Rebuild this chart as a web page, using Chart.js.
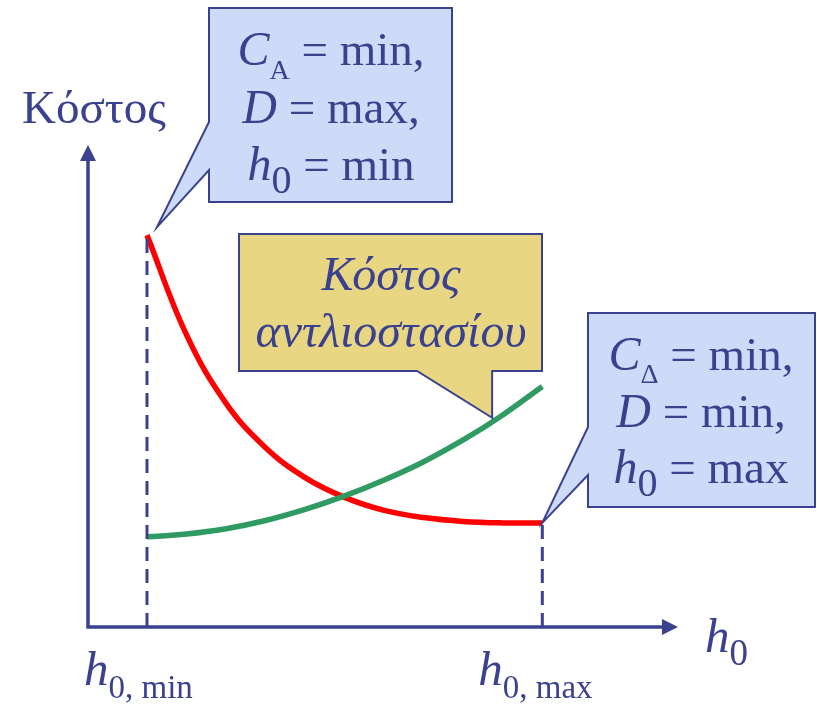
<!DOCTYPE html>
<html>
<head>
<meta charset="utf-8">
<script src="https://cdn.jsdelivr.net/npm/chart.js@4/dist/chart.umd.min.js"></script>
<style>
html,body{margin:0;padding:0;background:#fff;}
#wrap{width:817px;height:705px;}
</style>
</head>
<body>
<div id="wrap"><canvas id="c" width="817" height="705"></canvas></div>
<script>
// ---- data (schematic values) ----
const h0Values   = [1.0, 1.67, 2.34, 3.01, 3.68, 4.35, 5.02, 5.69, 6.36, 7.03, 7.7];
const pipeCost   = [81.3, 60.6, 46.4, 37.2, 31.0, 26.9, 24.2, 22.7, 21.9, 21.6, 21.6];  // red
const pumpCost   = [18.7, 19.3, 20.4, 22.1, 24.4, 27.2, 30.5, 34.3, 38.8, 44.0, 49.9];  // green
const h0Min = 1.0, h0Max = 7.7;
const yTitle = 'Κόστος';
const xTitle = 'h';
const calloutPumpLines = ['Κόστος', 'αντλιοστασίου'];
const pumpPointer = {x: 6.85, y: 43.4};

const BLUE = '#3a428f';
const SERIF = "'Liberation Serif','Times New Roman',serif";

function pts(xs, ys){ return xs.map((x,i)=>({x:x, y:ys[i]})); }

function rich(ctx, segs, cx, base, align){
  let w = 0;
  segs.forEach(s=>{ ctx.font = s.f; w += ctx.measureText(s.t).width; });
  let x = align === 'left' ? cx : cx - w/2;
  segs.forEach(s=>{
    ctx.font = s.f;
    ctx.fillText(s.t, x, base + (s.dy||0));
    x += ctx.measureText(s.t).width;
  });
}

const I = sz => 'italic ' + sz + 'px ' + SERIF;
const R = sz => sz + 'px ' + SERIF;

const decor = {
  id: 'decor',
  afterDatasetsDraw(chart){
    const ctx = chart.ctx;
    const xs = chart.scales.x, ys = chart.scales.y;
    const ca = chart.chartArea;
    const x0 = xs.getPixelForValue(0), y0 = ys.getPixelForValue(0);
    ctx.save();
    // axes
    ctx.strokeStyle = BLUE; ctx.fillStyle = BLUE; ctx.lineWidth = 3.5; ctx.lineCap='butt';
    ctx.beginPath();
    ctx.moveTo(x0, y0); ctx.lineTo(x0, ca.top + 14);
    ctx.moveTo(x0 - 1.75, y0); ctx.lineTo(ca.right - 14, y0);
    ctx.stroke();
    ctx.beginPath();
    ctx.moveTo(x0, ca.top); ctx.lineTo(x0 - 8, ca.top + 16); ctx.lineTo(x0 + 8, ca.top + 16); ctx.closePath(); ctx.fill();
    ctx.beginPath();
    ctx.moveTo(ca.right, y0); ctx.lineTo(ca.right - 16, y0 - 8); ctx.lineTo(ca.right - 16, y0 + 8); ctx.closePath(); ctx.fill();

    // callouts
    function callout(path, fill){
      ctx.beginPath();
      path.forEach((p,i)=> i ? ctx.lineTo(p[0],p[1]) : ctx.moveTo(p[0],p[1]));
      ctx.closePath();
      ctx.fillStyle = fill; ctx.fill();
      ctx.lineWidth = 2; ctx.strokeStyle = BLUE; ctx.lineJoin='miter'; ctx.stroke();
    }
    const t1 = [xs.getPixelForValue(h0Min) + 10, ys.getPixelForValue(pipeCost[0]) - 8];
    const t2 = [xs.getPixelForValue(pumpPointer.x), ys.getPixelForValue(pumpPointer.y)];
    const t3 = [xs.getPixelForValue(h0Max), ys.getPixelForValue(pipeCost[pipeCost.length-1])];
    callout([[209,8],[452,8],[452,202],[209,202],[209,170],t1,[209,122]], '#cddaf8');
    callout([[239,234],[542,234],[542,371],[t2[0],371],t2,[417,371],[239,371]], '#e9d683');
    callout([[588,313],[815,313],[815,507],[588,507],[588,475],t3,[588,427]], '#cddaf8');

    ctx.fillStyle = BLUE; ctx.textBaseline = 'alphabetic';
    // callout 1
    rich(ctx, [{t:'C',f:I(48)},{t:'A',f:R(28),dy:14},{t:' = min,',f:R(47)}], 331, 65);
    rich(ctx, [{t:'D',f:I(48)},{t:' = max,',f:R(47)}], 331, 123);
    rich(ctx, [{t:'h',f:I(48)},{t:'0',f:R(40),dy:13},{t:' = min',f:R(47)}], 331, 180);
    // callout 2
    rich(ctx, [{t:calloutPumpLines[0],f:I(48)}], 391, 290);
    rich(ctx, [{t:calloutPumpLines[1],f:I(48)}], 391, 347);
    // callout 3
    rich(ctx, [{t:'C',f:I(48)},{t:'Δ',f:R(28),dy:13},{t:' = min,',f:R(47)}], 701, 370);
    rich(ctx, [{t:'D',f:I(48)},{t:' = min,',f:R(47)}], 701, 427);
    rich(ctx, [{t:'h',f:I(48)},{t:'0',f:R(40),dy:13},{t:' = max',f:R(47)}], 701, 483);

    // axis titles and tick labels
    rich(ctx, [{t:yTitle,f:R(47)}], 22, 123, 'left');
    rich(ctx, [{t:xTitle,f:I(49)},{t:'0',f:R(37),dy:13}], 705, 652, 'left');
    rich(ctx, [{t:'h',f:I(49)},{t:'0, min',f:R(33),dy:13}], xs.getPixelForValue(h0Min) - 63, 685, 'left');
    rich(ctx, [{t:'h',f:I(49)},{t:'0, max',f:R(33),dy:13}], xs.getPixelForValue(h0Max) - 64, 685, 'left');
    ctx.restore();
  }
};

new Chart(document.getElementById('c'), {
  type: 'line',
  data: {
    datasets: [
      {data: pts([h0Min,h0Min],[0,pipeCost[0]]), borderColor: BLUE, borderWidth: 3, borderDash:[14,8], pointRadius:0, fill:false},
      {data: pts([h0Max,h0Max],[0,pipeCost[pipeCost.length-1]]), borderColor: BLUE, borderWidth: 3, borderDash:[14,8], pointRadius:0, fill:false},
      {data: pts(h0Values, pumpCost), borderColor:'#2f9a62', borderWidth:5.5, pointRadius:0, tension:0.4, fill:false},
      {data: pts(h0Values, pipeCost), borderColor:'#ff0000', borderWidth:5.5, pointRadius:0, tension:0.4, fill:false}
    ]
  },
  options: {
    responsive: false,
    animation: false,
    layout: {padding: {left: 88, top: 145, right: 139, bottom: 78}},
    plugins: {legend:{display:false}, tooltip:{enabled:false}},
    scales: {
      x: {type:'linear', min:0, max:10, display:false},
      y: {type:'linear', min:0, max:100, display:false}
    }
  },
  plugins: [decor]
});
</script>
</body>
</html>
